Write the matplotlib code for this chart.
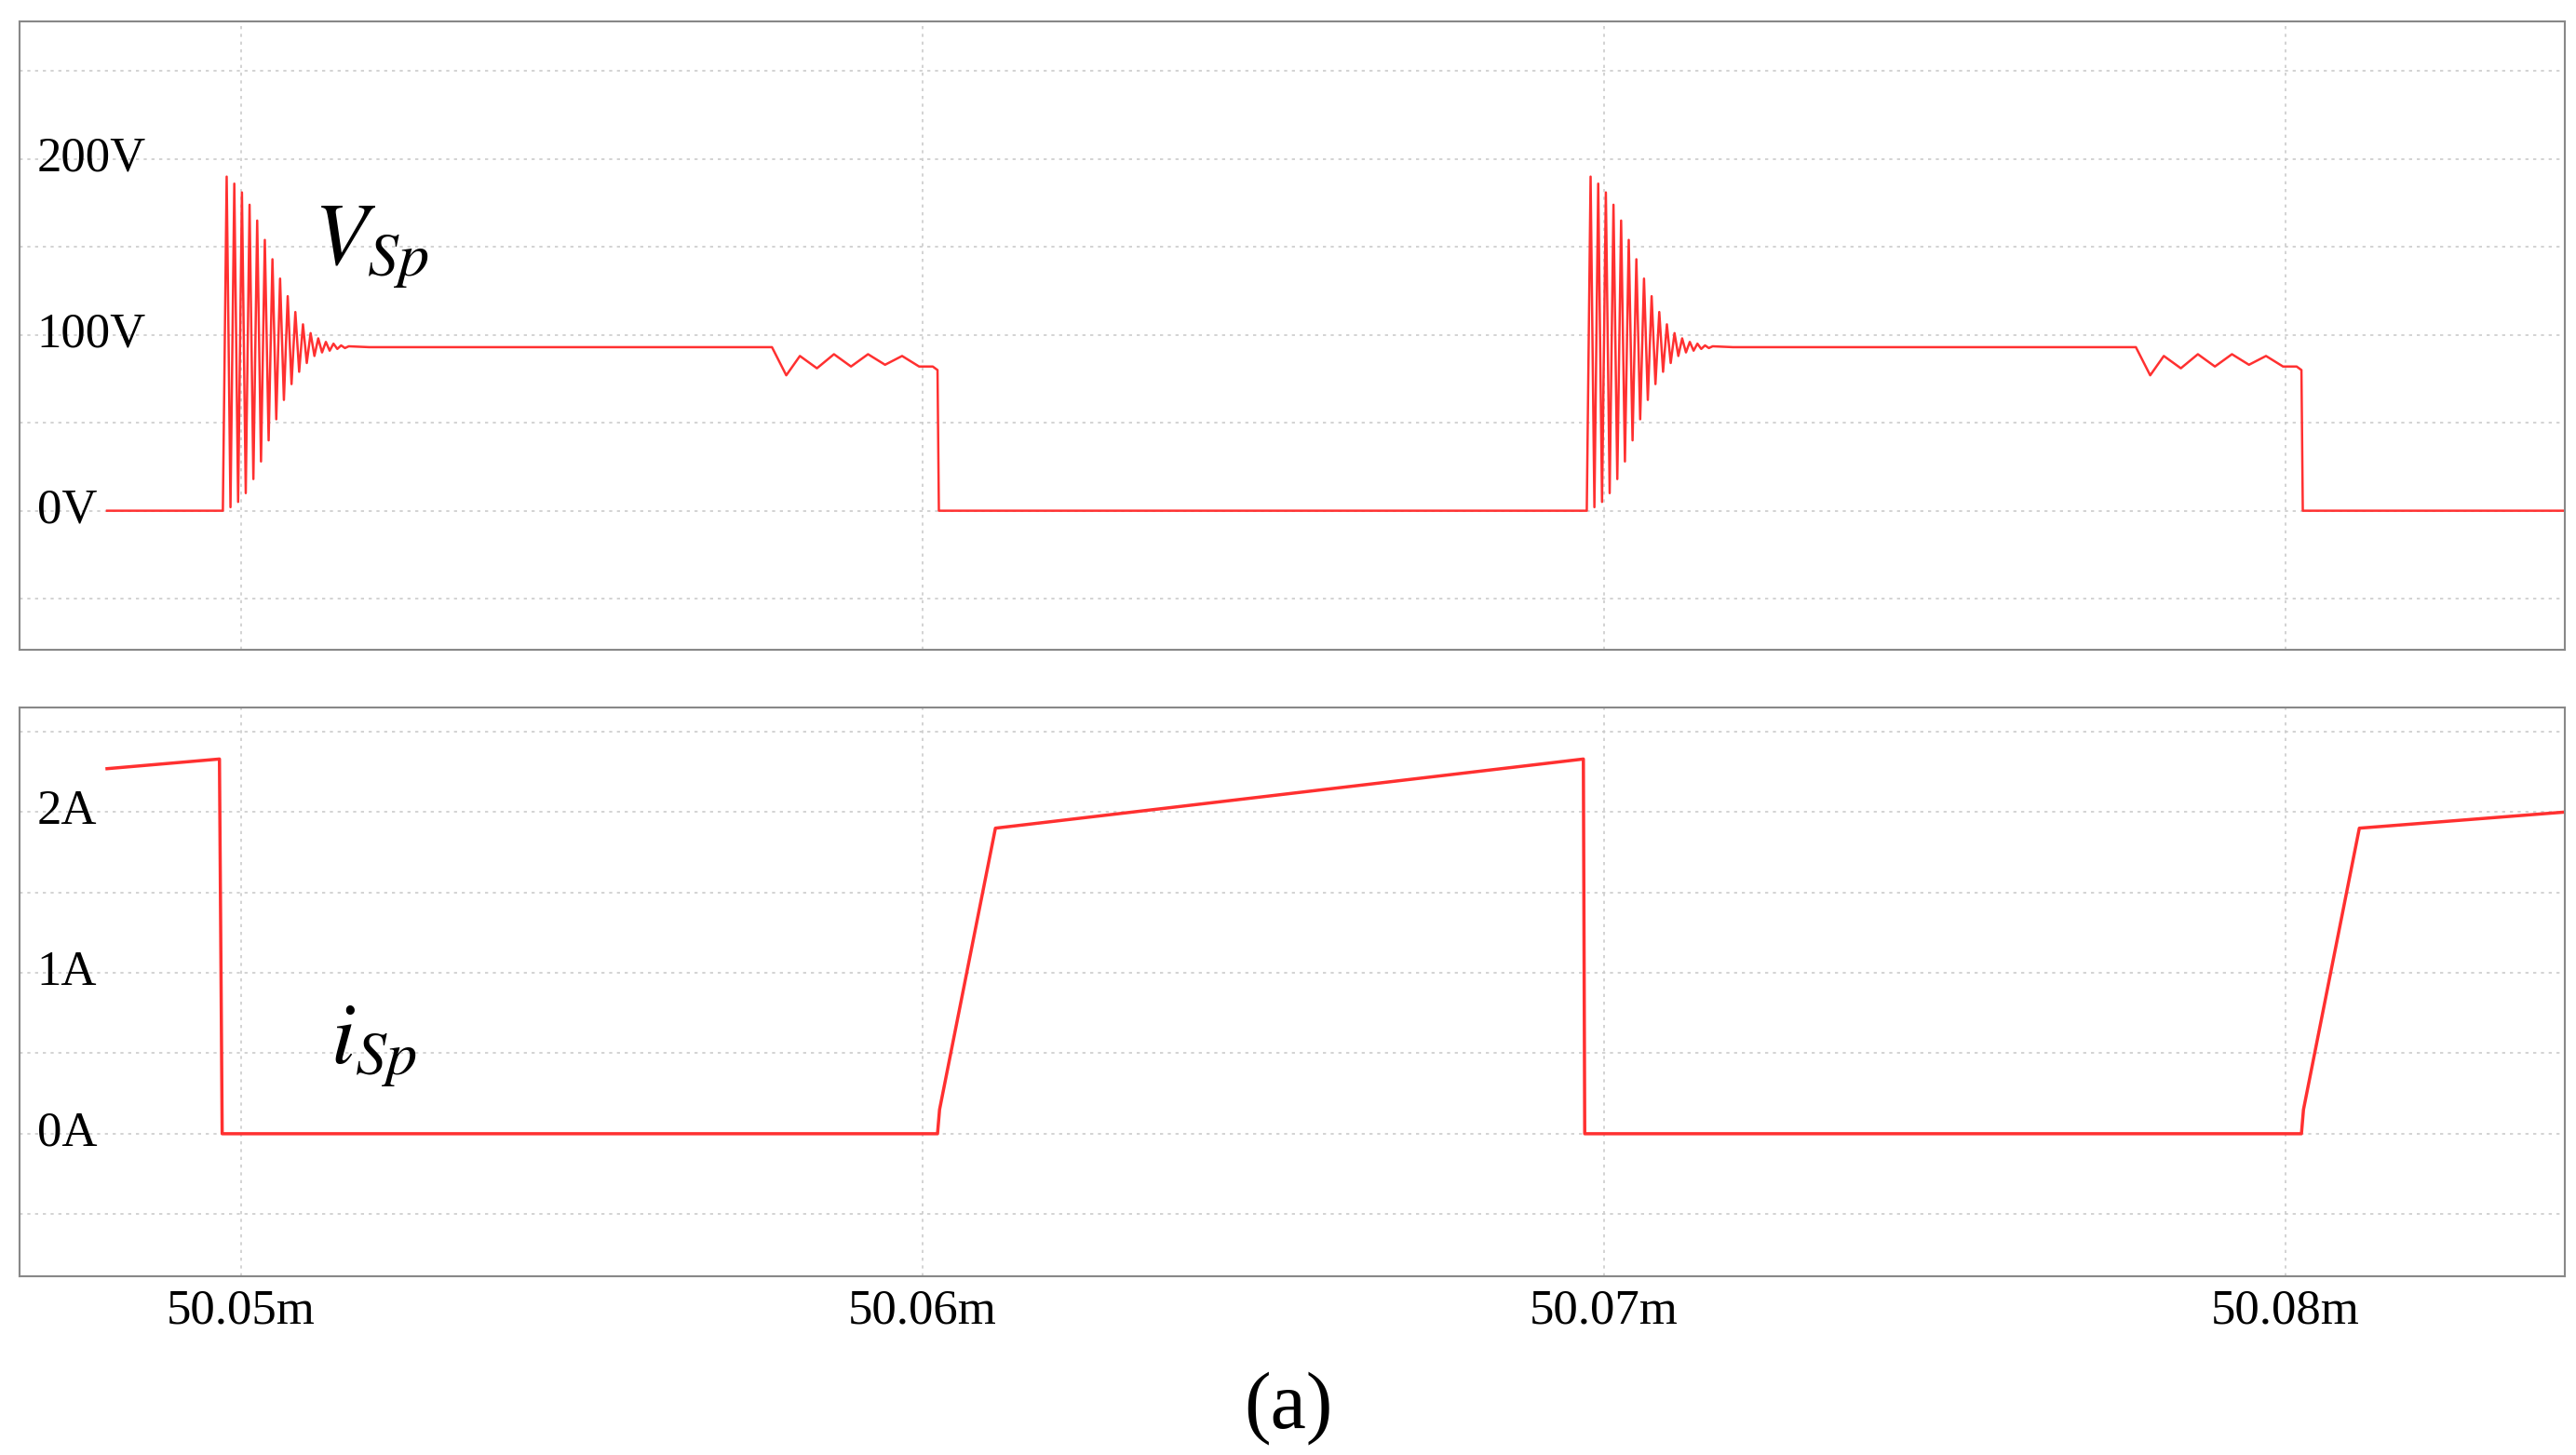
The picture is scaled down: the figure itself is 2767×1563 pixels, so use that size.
import numpy as np
import matplotlib.pyplot as plt

# time in ms
period = 0.02002
t_start = 50.04803
t_on = 50.04973          # switch turns off -> voltage rises
t_ring_step = 0.000056   # half period of ringing
ring_max = [190, 186, 181, 174, 165, 154, 143, 132, 122, 113, 106, 101, 98, 96, 95, 94, 93.5]
ring_min = [2, 5, 10, 18, 28, 40, 52, 63, 72, 79, 84, 88, 90, 91, 92, 92.5]
t_flat_end = 50.05779
wig_t = [50.05779, 50.05800, 50.05820, 50.05845, 50.05870, 50.05895, 50.05920, 50.05945, 50.05970, 50.05995, 50.06015]
wig_v = [93, 77, 88, 81, 89, 82, 89, 83, 88, 82, 82]
t_off = 50.06022
v_flat = 93

# current (A)
i_start = [(t_start, 2.27), (50.04968, 2.33)]
i_rise_end = 50.06107
i_top_start = 1.90
i_top_end = 2.33
i_end_val = 2.00

def voltage_period(t0):
    ts, vs = [t0], [0]
    n = len(ring_max) + len(ring_min)
    for k in range(n):
        ts.append(t0 + (k + 1) * t_ring_step)
        vs.append(ring_max[k // 2] if k % 2 == 0 else ring_min[k // 2])
    ts += [ts[-1] + 0.0003, t_flat_end - t_on + t0]
    vs += [v_flat, v_flat]
    ts += [w - t_on + t0 for w in wig_t]
    vs += wig_v
    ts += [t_off - t_on + t0, t_off - t_on + t0 + 0.00002]
    vs += [80, 0]
    return ts, vs

tv, vv = [t_start], [0]
for p in range(2):
    a, b = voltage_period(t_on + p * period)
    tv += a
    vv += b
tv.append(50.0841)
vv.append(0)

ti = [i_start[0][0], i_start[1][0], i_start[1][0] + 0.00004]
iv = [i_start[0][1], i_start[1][1], 0]
for p in range(2):
    off = p * period
    ti += [t_off + off, t_off + off + 0.00003, i_rise_end + off]
    iv += [0, 0.15, i_top_start]
    if p == 0:
        ti += [t_on + period - 0.00005, t_on + period - 0.00003]
        iv += [i_top_end, 0]
ti.append(50.0841)
iv.append(i_end_val)

fig = plt.figure(figsize=(27.67, 15.63), dpi=100)
ax1 = fig.add_axes([0.0077, 0.5535, 0.9878, 0.4315])
ax2 = fig.add_axes([0.0077, 0.123, 0.9878, 0.3907])

red = '#ff3030'
ax1.plot(tv, vv, color=red, lw=1.8)
ax2.plot(ti, iv, color=red, lw=2.5)

ax1.set_ylim(-79, 278)
ax2.set_ylim(-0.885, 2.65)
xticks = [50.05, 50.06, 50.07, 50.08]
for ax in (ax1, ax2):
    ax.set_xlim(50.04675, 50.0841)
    ax.set_xticks(xticks)
    ax.tick_params(length=0, labelleft=False)
    ax.grid(True, color='#cccccc', linestyle=(0, (2, 3)), lw=1.2)
    for s in ax.spines.values():
        s.set_color('#888888')
        s.set_linewidth(1.5)
ax1.set_yticks([-50, 0, 50, 100, 150, 200, 250])
ax2.set_yticks([-0.5, 0, 0.5, 1, 1.5, 2, 2.5])
ax1.tick_params(labelbottom=False)
serif = 'Liberation Serif'
ax2.set_xticklabels(['50.05m', '50.06m', '50.07m', '50.08m'], family=serif, fontsize=38)
ax2.tick_params(pad=10)

for val, lab in [(200, '200V'), (100, '100V'), (0, '0V')]:
    ax1.text(50.04700, val, lab, family=serif, fontsize=38, va='center', ha='left')
for val, lab in [(2, '2A'), (1, '1A'), (0, '0A')]:
    ax2.text(50.04700, val, lab, family=serif, fontsize=38, va='center', ha='left')

plt.rcParams['mathtext.fontset'] = 'stix'
ax1.text(50.05107, 150, r'$V_{Sp}$', fontsize=68, va='center')
ax2.text(50.05131, 0.55, r'$i_{Sp}$', fontsize=68, va='center')
fig.text(0.5, 0.032, '(a)', family=serif, fontsize=62, ha='center', va='center')

fig.savefig('out.png', dpi=100, facecolor='white')
